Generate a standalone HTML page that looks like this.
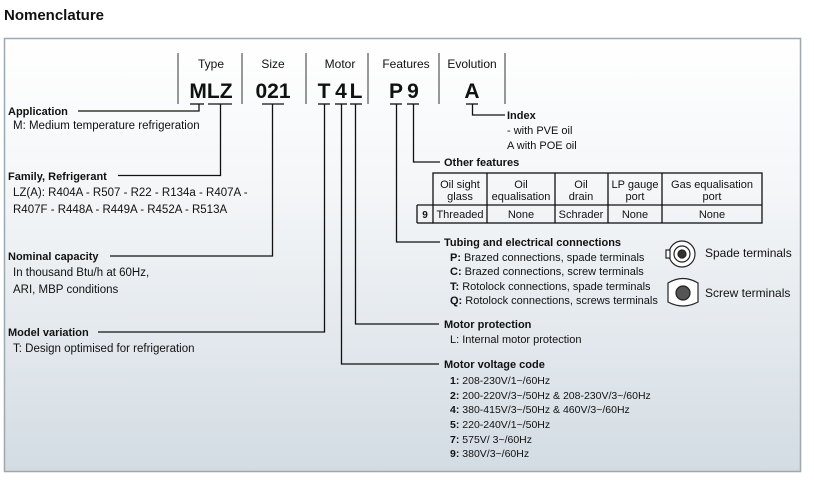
<!DOCTYPE html>
<html><head><meta charset="utf-8"><style>
body{margin:0;background:#fff;width:814px;height:487px;overflow:hidden}
svg{font-family:"Liberation Sans",sans-serif}
.t{font-size:11px;fill:#111}
.l{font-size:11.5px;fill:#111}
.b{font-size:11px;font-weight:bold;fill:#111}
.h{font-size:12px;fill:#111;text-anchor:middle}
.c{font-size:21px;font-weight:bold;fill:#111;text-anchor:middle}
.tc{font-size:11px;fill:#111;text-anchor:middle}
</style></head><body>
<svg width="814" height="487" viewBox="0 0 814 487">
<defs><linearGradient id="g" x1="0" y1="0" x2="0" y2="1">
<stop offset="0" stop-color="#ffffff"/><stop offset="0.35" stop-color="#f4f6f8"/><stop offset="1" stop-color="#d3dce3"/></linearGradient></defs>
<text x="4" y="20" style="font-size:15px;font-weight:bold;fill:#111">Nomenclature</text>
<rect x="4.5" y="38.5" width="796" height="433" fill="url(#g)" stroke="#9ea8b0" stroke-width="1.5"/>
<g stroke="#333" stroke-width="1">
<line x1="178" y1="53" x2="178" y2="104"/><line x1="242" y1="53" x2="242" y2="104"/>
<line x1="306" y1="53" x2="306" y2="104"/><line x1="368" y1="53" x2="368" y2="104"/>
<line x1="439" y1="53" x2="439" y2="104"/><line x1="505" y1="53" x2="505" y2="104"/>
</g>
<text class="h" x="211" y="68">Type</text><text class="h" x="273" y="68">Size</text>
<text class="h" x="340" y="68">Motor</text><text class="h" x="406" y="68">Features</text>
<text class="h" x="472" y="68">Evolution</text>
<text class="c" x="211" y="98">MLZ</text><text class="c" x="273" y="98">021</text>
<text class="c" x="324" y="98">T</text><text class="c" x="341" y="98">4</text><text class="c" x="356" y="98">L</text>
<text class="c" x="396" y="98">P</text><text class="c" x="413" y="98">9</text><text class="c" x="472" y="98">A</text>
<g stroke="#111" stroke-width="1.3" fill="none">
<line x1="190" y1="104" x2="204" y2="104"/><line x1="208" y1="104" x2="232" y2="104"/>
<line x1="262" y1="104" x2="284" y2="104"/>
<line x1="318" y1="104" x2="330" y2="104"/><line x1="335" y1="104" x2="347" y2="104"/><line x1="350" y1="104" x2="362" y2="104"/>
<line x1="390" y1="104" x2="402" y2="104"/><line x1="407" y1="104" x2="419" y2="104"/><line x1="466" y1="104" x2="478" y2="104"/>
<polyline points="78,111 199,111 199,104"/>
<polyline points="118,175.5 220.5,175.5 220.5,104"/>
<polyline points="110,256 272.5,256 272.5,104"/>
<polyline points="98,332 324.5,332 324.5,104"/>
<polyline points="439,324 355.5,324 355.5,104"/>
<polyline points="439,364 341.5,364 341.5,104"/>
<polyline points="440,242 396.5,242 396.5,104"/>
<polyline points="440,162 413.5,162 413.5,104"/>
<polyline points="505,115 472.5,115 472.5,104"/>
</g>
<text class="b" x="8" y="115">Application</text>
<text class="l" x="13" y="129">M: Medium temperature refrigeration</text>
<text class="b" x="8" y="180">Family, Refrigerant</text>
<text class="l" x="13" y="196">LZ(A): R404A - R507 - R22 - R134a - R407A -</text>
<text class="l" x="13" y="213">R407F - R448A - R449A - R452A - R513A</text>
<text class="b" x="8" y="260">Nominal capacity</text>
<text class="l" x="13" y="276">In thousand Btu/h at 60Hz,</text>
<text class="l" x="13" y="293">ARI, MBP conditions</text>
<text class="b" x="8" y="336">Model variation</text>
<text class="l" x="13" y="352">T: Design optimised for refrigeration</text>
<text class="b" x="507" y="119">Index</text>
<text class="t" x="507" y="134">- with PVE oil</text>
<text class="t" x="507" y="149">A with POE oil</text>
<text class="b" x="444" y="166">Other features</text>
<g stroke="#111" stroke-width="1.3" fill="none">
<rect x="433" y="173" width="329" height="50"/>
<line x1="417" y1="205" x2="762" y2="205"/><line x1="417" y1="205" x2="417" y2="223"/><line x1="417" y1="223" x2="433" y2="223"/>
<line x1="487" y1="173" x2="487" y2="223"/><line x1="555" y1="173" x2="555" y2="223"/>
<line x1="608" y1="173" x2="608" y2="223"/><line x1="662" y1="173" x2="662" y2="223"/>
</g>
<text class="tc" x="460" y="188">Oil sight</text><text class="tc" x="460" y="200">glass</text>
<text class="tc" x="521" y="188">Oil</text><text class="tc" x="521" y="200">equalisation</text>
<text class="tc" x="581" y="188">Oil</text><text class="tc" x="581" y="200">drain</text>
<text class="tc" x="635" y="188">LP gauge</text><text class="tc" x="635" y="200">port</text>
<text class="tc" x="712" y="188">Gas equalisation</text><text class="tc" x="712" y="200">port</text>
<text class="tc" x="425" y="218" style="font-weight:bold;font-size:10px">9</text>
<text class="tc" x="460" y="218">Threaded</text><text class="tc" x="521" y="218">None</text>
<text class="tc" x="581" y="218">Schrader</text><text class="tc" x="635" y="218">None</text><text class="tc" x="712" y="218">None</text>
<text class="b" x="444" y="246">Tubing and electrical connections</text>
<text class="t" x="450" y="261"><tspan font-weight="bold">P:</tspan> Brazed connections, spade terminals</text>
<text class="t" x="450" y="275"><tspan font-weight="bold">C:</tspan> Brazed connections, screw terminals</text>
<text class="t" x="450" y="290"><tspan font-weight="bold">T:</tspan> Rotolock connections, spade terminals</text>
<text class="t" x="450" y="304"><tspan font-weight="bold">Q:</tspan> Rotolock connections, screws terminals</text>
<g stroke="#222" fill="#fff" stroke-width="1.2">
<circle cx="682" cy="254" r="13"/><circle cx="682" cy="254" r="8"/><circle cx="682" cy="254" r="4" fill="#333"/>
<rect x="666" y="250" width="4" height="8"/>
<path d="M668 283 Q683 274 698 283 L698 302 Q683 310 668 302 Z"/>
<circle cx="683" cy="293" r="7" fill="#555"/>
</g>
<text x="705" y="257" style="font-size:12px;fill:#111">Spade terminals</text>
<text x="705" y="297" style="font-size:12px;fill:#111">Screw terminals</text>
<text class="b" x="444" y="328">Motor protection</text>
<text class="t" x="450" y="343">L: Internal motor protection</text>
<text class="b" x="444" y="368">Motor voltage code</text>
<text class="t" x="450" y="384" style="font-size:10.5px"><tspan font-weight="bold">1:</tspan> 208-230V/1~/60Hz</text>
<text class="t" x="450" y="399" style="font-size:10.5px"><tspan font-weight="bold">2:</tspan> 200-220V/3~/50Hz &amp; 208-230V/3~/60Hz</text>
<text class="t" x="450" y="413" style="font-size:10.5px"><tspan font-weight="bold">4:</tspan> 380-415V/3~/50Hz &amp; 460V/3~/60Hz</text>
<text class="t" x="450" y="428" style="font-size:10.5px"><tspan font-weight="bold">5:</tspan> 220-240V/1~/50Hz</text>
<text class="t" x="450" y="443" style="font-size:10.5px"><tspan font-weight="bold">7:</tspan> 575V/ 3~/60Hz</text>
<text class="t" x="450" y="457" style="font-size:10.5px"><tspan font-weight="bold">9:</tspan> 380V/3~/60Hz</text>
</svg>
</body></html>
